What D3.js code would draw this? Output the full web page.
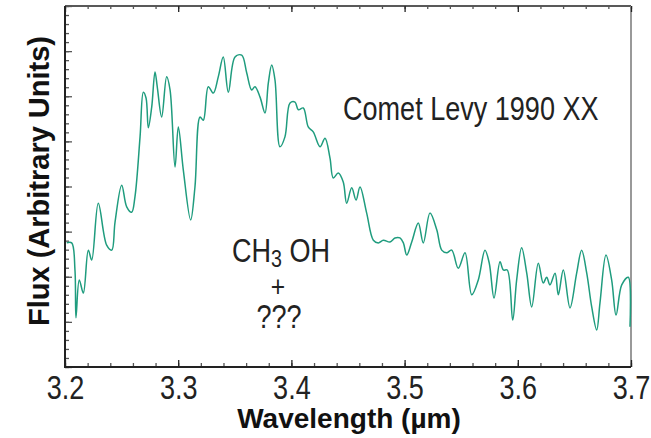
<!DOCTYPE html>
<html>
<head>
<meta charset="utf-8">
<script src="https://cdn.jsdelivr.net/npm/d3@7"></script>
<style>
  body { margin: 0; background: #fff; }
  .narrow { font-family: "Liberation Sans", Arial, sans-serif; }
  .bold { font-family: "Liberation Sans", Arial, sans-serif; font-weight: bold; }
</style>
</head>
<body>
<svg id="chart" width="651" height="438"></svg>
<script>
// spectrum: wavelength (um) and flux (arbitrary units)
let wavelength = [3.2015, 3.2059, 3.2088, 3.2097, 3.2126, 3.2162, 3.2206, 3.2236, 3.2294, 3.2368,
    3.2413, 3.2442, 3.2501, 3.2545, 3.2589, 3.2618, 3.2663, 3.2692, 3.2716, 3.2736,
    3.2766, 3.2795, 3.2815, 3.2854, 3.2898, 3.2928, 3.2972, 3.3001, 3.3045, 3.3110,
    3.3148, 3.3193, 3.3222, 3.3266, 3.3310, 3.3354, 3.3398, 3.3443, 3.3502, 3.3561,
    3.3605, 3.3649, 3.3678, 3.3723, 3.3767, 3.3796, 3.3826, 3.3855, 3.3899, 3.3943,
    3.3988, 3.4032, 3.4061, 3.4105, 3.4149, 3.4193, 3.4253, 3.4297, 3.4341, 3.4370,
    3.4414, 3.4458, 3.4488, 3.4533, 3.4571, 3.4606, 3.4665, 3.4724, 3.4768, 3.4812,
    3.4871, 3.4915, 3.4959, 3.4989, 3.5019, 3.5063, 3.5121, 3.5165, 3.5224, 3.5284,
    3.5328, 3.5372, 3.5416, 3.5474, 3.5534, 3.5593, 3.5651, 3.5710, 3.5748, 3.5790,
    3.5843, 3.5872, 3.5907, 3.5955, 3.5990, 3.6034, 3.6079, 3.6123, 3.6181, 3.6225,
    3.6255, 3.6284, 3.6329, 3.6358, 3.6402, 3.6461, 3.6520, 3.6564, 3.6609, 3.6653,
    3.6697, 3.6726, 3.6779, 3.6829, 3.6868, 3.6918, 3.6976, 3.6991];
let flux = [2.75, 2.75, 2.15, 1.09, 1.93, 1.64, 2.59, 2.37, 3.63, 2.70,
    2.59, 3.21, 4.03, 3.55, 3.43, 3.77, 5.10, 6.09, 5.96, 5.30,
    5.76, 6.54, 6.21, 5.54, 6.43, 6.14, 4.43, 5.32, 4.37, 3.26,
    3.99, 5.54, 5.47, 6.21, 6.07, 6.43, 6.87, 6.09, 6.87, 6.91,
    6.52, 6.14, 6.21, 5.98, 5.63, 6.29, 6.69, 6.36, 4.88, 5.10,
    5.85, 5.87, 5.70, 5.74, 5.32, 5.21, 4.88, 5.07, 4.63, 4.19,
    4.30, 4.10, 3.63, 3.97, 3.70, 3.99, 3.41, 2.81, 2.75, 2.81,
    2.77, 2.86, 2.86, 2.75, 2.48, 2.77, 3.19, 2.75, 3.41, 3.04,
    2.59, 2.53, 2.59, 2.19, 2.53, 1.60, 1.93, 2.59, 2.30, 1.53,
    2.33, 2.15, 2.15, 1.04, 1.93, 2.64, 2.08, 1.33, 2.30, 1.86,
    1.99, 1.82, 2.08, 1.60, 2.15, 1.31, 2.08, 2.59, 2.08, 1.33,
    0.82, 1.42, 2.48, 1.93, 1.15, 1.82, 1.99, 0.89];

let xTicks = [3.2, 3.3, 3.4, 3.5, 3.6, 3.7];
let xMinorTicks = d3.range(3.2, 3.7001, 0.02);
let yTicks = d3.range(0, 8.001, 1);
let yMinorTicks = d3.range(0, 8.001, 0.2);

let titleText = "Comet Levy 1990 XX";
let xLabel = "Wavelength (\u00b5m)";
let yLabel = "Flux (Arbitrary Units)";

let svg = d3.select("#chart");
let mLeft = 65, mRight = 631, mTop = 6, mBottom = 367;
let squeeze = 0.82; // the figure's regular text is horizontally condensed

let xScale = d3.scaleLinear().domain([3.2, 3.7]).range([mLeft, mRight]);
let yScale = d3.scaleLinear().domain([0, 8]).range([mBottom, mTop]);

// frame: top and right edges
svg.append("line").attr("x1", mLeft).attr("x2", mRight).attr("y1", mTop).attr("y2", mTop)
    .attr("stroke", "#222").attr("stroke-width", 1.5);
svg.append("line").attr("x1", mRight).attr("x2", mRight).attr("y1", mTop).attr("y2", mBottom)
    .attr("stroke", "#999").attr("stroke-width", 2);

// top ticks pointing down
let topMinor = svg.append("g").attr("transform", "translate(0," + mTop + ")")
    .call(d3.axisTop(xScale).tickValues(xMinorTicks).tickSize(-3).tickFormat(""));
let topMajor = svg.append("g").attr("transform", "translate(0," + mTop + ")")
    .call(d3.axisTop(xScale).tickValues(xTicks).tickSize(-6).tickFormat(""));

// left ticks pointing right
let leftMinor = svg.append("g").attr("transform", "translate(" + mLeft + ",0)")
    .call(d3.axisLeft(yScale).tickValues(yMinorTicks).tickSize(-4).tickFormat(""));
let leftMajor = svg.append("g").attr("transform", "translate(" + mLeft + ",0)")
    .call(d3.axisLeft(yScale).tickValues(yTicks).tickSize(-7).tickFormat(""));

// bottom ticks pointing up, with labels
let botMinor = svg.append("g").attr("transform", "translate(0," + mBottom + ")")
    .call(d3.axisBottom(xScale).tickValues(xMinorTicks).tickSize(-4).tickFormat(""));
let botMajor = svg.append("g").attr("transform", "translate(0," + mBottom + ")")
    .call(d3.axisBottom(xScale).tickValues(xTicks).tickSize(-7).tickPadding(0).tickFormat(d3.format(".1f")));

[topMinor, topMajor, leftMinor, leftMajor, botMinor, botMajor].forEach(function (g) {
    g.select(".domain").attr("stroke", "none");
    g.selectAll(".tick line").attr("stroke", "#555").attr("stroke-width", 1.3);
});
topMajor.selectAll(".tick line").attr("stroke", "#222");
botMajor.selectAll(".tick line").attr("stroke", "#222");

botMajor.selectAll("text")
    .attr("class", "narrow")
    .attr("font-size", 33)
    .attr("fill", "#222")
    .attr("dy", null)
    .attr("y", 32)
    .attr("transform", "scale(" + squeeze + ",1)");

// left and bottom axis lines
svg.append("line").attr("x1", mLeft).attr("x2", mLeft).attr("y1", mTop).attr("y2", mBottom)
    .attr("stroke", "#222").attr("stroke-width", 2);
svg.append("line").attr("x1", mLeft - 1).attr("x2", mRight).attr("y1", mBottom).attr("y2", mBottom)
    .attr("stroke", "#222").attr("stroke-width", 2);

// spectrum
let pts = wavelength.map(function (d, i) { return [d, flux[i]]; });
let line = d3.line()
    .x(function (d) { return xScale(d[0]); })
    .y(function (d) { return yScale(d[1]); })
    .curve(d3.curveCatmullRom.alpha(0.5));
svg.append("path").datum(pts)
    .attr("d", line)
    .attr("fill", "none")
    .attr("stroke", "#1f9c7e")
    .attr("stroke-width", 1.5);

// annotations, condensed around their anchor point
function note(x, y, anchor) {
    return svg.append("text").attr("class", "narrow")
        .attr("transform", "translate(" + x + "," + y + ") scale(" + squeeze + ",1)")
        .attr("text-anchor", anchor)
        .attr("font-size", 33).attr("fill", "#222");
}

note(343, 120, "start").text(titleText);

let ch = note(232, 262, "start");
ch.append("tspan").text("CH");
ch.append("tspan").attr("font-size", 24).attr("dy", 5).text("3");
ch.append("tspan").attr("dy", -5).text(" OH");

note(278, 297, "middle").attr("font-size", 30).text("+");
note(279, 328, "middle").text("???");

// axis titles
svg.append("text").attr("class", "bold")
    .attr("x", 349).attr("y", 428).attr("text-anchor", "middle")
    .attr("font-size", 28).attr("fill", "#111")
    .text(xLabel);
svg.append("text").attr("class", "bold")
    .attr("transform", "translate(49,181) rotate(-90)")
    .attr("text-anchor", "middle")
    .attr("font-size", 29).attr("fill", "#111")
    .text(yLabel);
</script>
</body>
</html>
